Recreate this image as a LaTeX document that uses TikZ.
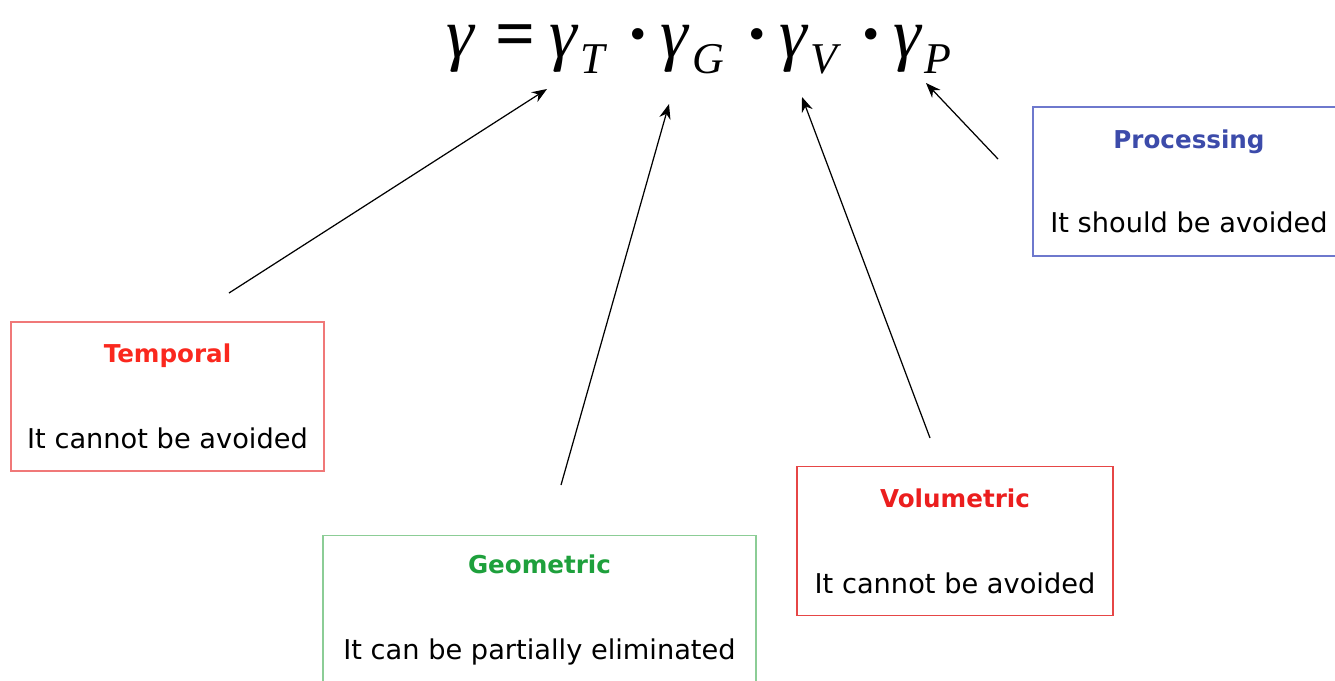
\documentclass[tikz,border=0pt]{standalone}
\usepackage{fontspec}
\setmainfont{DejaVu Sans}
\newfontfamily\eqfont{Liberation Serif}
\usetikzlibrary{arrows.meta,calc}

\definecolor{templine}{RGB}{240,120,120}
\definecolor{tempword}{RGB}{250,40,30}
\definecolor{geoline}{RGB}{140,205,150}
\definecolor{geoword}{RGB}{30,160,60}
\definecolor{volline}{RGB}{230,70,70}
\definecolor{volword}{RGB}{235,30,30}
\definecolor{procline}{RGB}{110,120,205}
\definecolor{procword}{RGB}{60,75,170}

\tikzset{
  factbox/.style={draw, line width=0.9pt, align=center, minimum height=2.98cm,
    inner sep=0pt, font=\fontsize{15.5}{18}\selectfont},
  pointer/.style={-{Stealth[length=3mm,width=2.3mm]}, line width=0.7pt}
}
\newcommand{\boxtitle}[2]{{\fontsize{14}{17}\selectfont\bfseries\color{#1}#2}}
\newcommand{\eqsub}[1]{\kern2pt\raisebox{-9.5pt}{\fontsize{25}{28}\selectfont\itshape #1}}
\newcommand{\eqdot}{\kern12.5pt{\upshape\textbf{·}}\kern6pt}

\begin{document}
\begin{tikzpicture}[x=0.02cm, y=-0.02cm]
\useasboundingbox (0,0) rectangle (1335,680);

% the product
\node[anchor=base west, inner sep=0pt, font=\eqfont\fontsize{40}{44}\selectfont\itshape] (eq) at (446,57)
  {γ\kern12pt{\upshape\bfseries =}\kern8pt γ\eqsub{T}\eqdot γ\eqsub{G}\eqdot γ\eqsub{V}\eqdot γ\eqsub{P}};

% the four factors
\node[factbox, draw=templine, minimum width=6.26cm] (temporal) at (167.5,396.5)
  {\boxtitle{tempword}{Temporal}\\[31pt]It cannot be avoided};
\node[factbox, draw=geoline, minimum width=8.66cm] (geometric) at (539.5,610)
  {\boxtitle{geoword}{Geometric}\\[31pt]It can be partially eliminated};
\node[factbox, draw=volline, minimum width=6.32cm] (volumetric) at (955,541)
  {\boxtitle{volword}{Volumetric}\\[31pt]It cannot be avoided};
\node[factbox, draw=procline, minimum width=6.24cm] (processing) at (1189,181.5)
  {\boxtitle{procword}{Processing}\\[30pt]It should be avoided};

% arrow ends
\coordinate (tT) at (547,89);
\coordinate (tG) at (669,104);
\coordinate (tV) at (802,97);
\coordinate (tP) at (926,83);
\coordinate (sT) at (229,293);
\coordinate (sG) at (561,485);
\coordinate (sV) at (930,438);
\coordinate (sP) at (998,159);

\foreach \f in {T,G,V,P}
  \draw[pointer] (s\f) -- (t\f);
\end{tikzpicture}
\end{document}
